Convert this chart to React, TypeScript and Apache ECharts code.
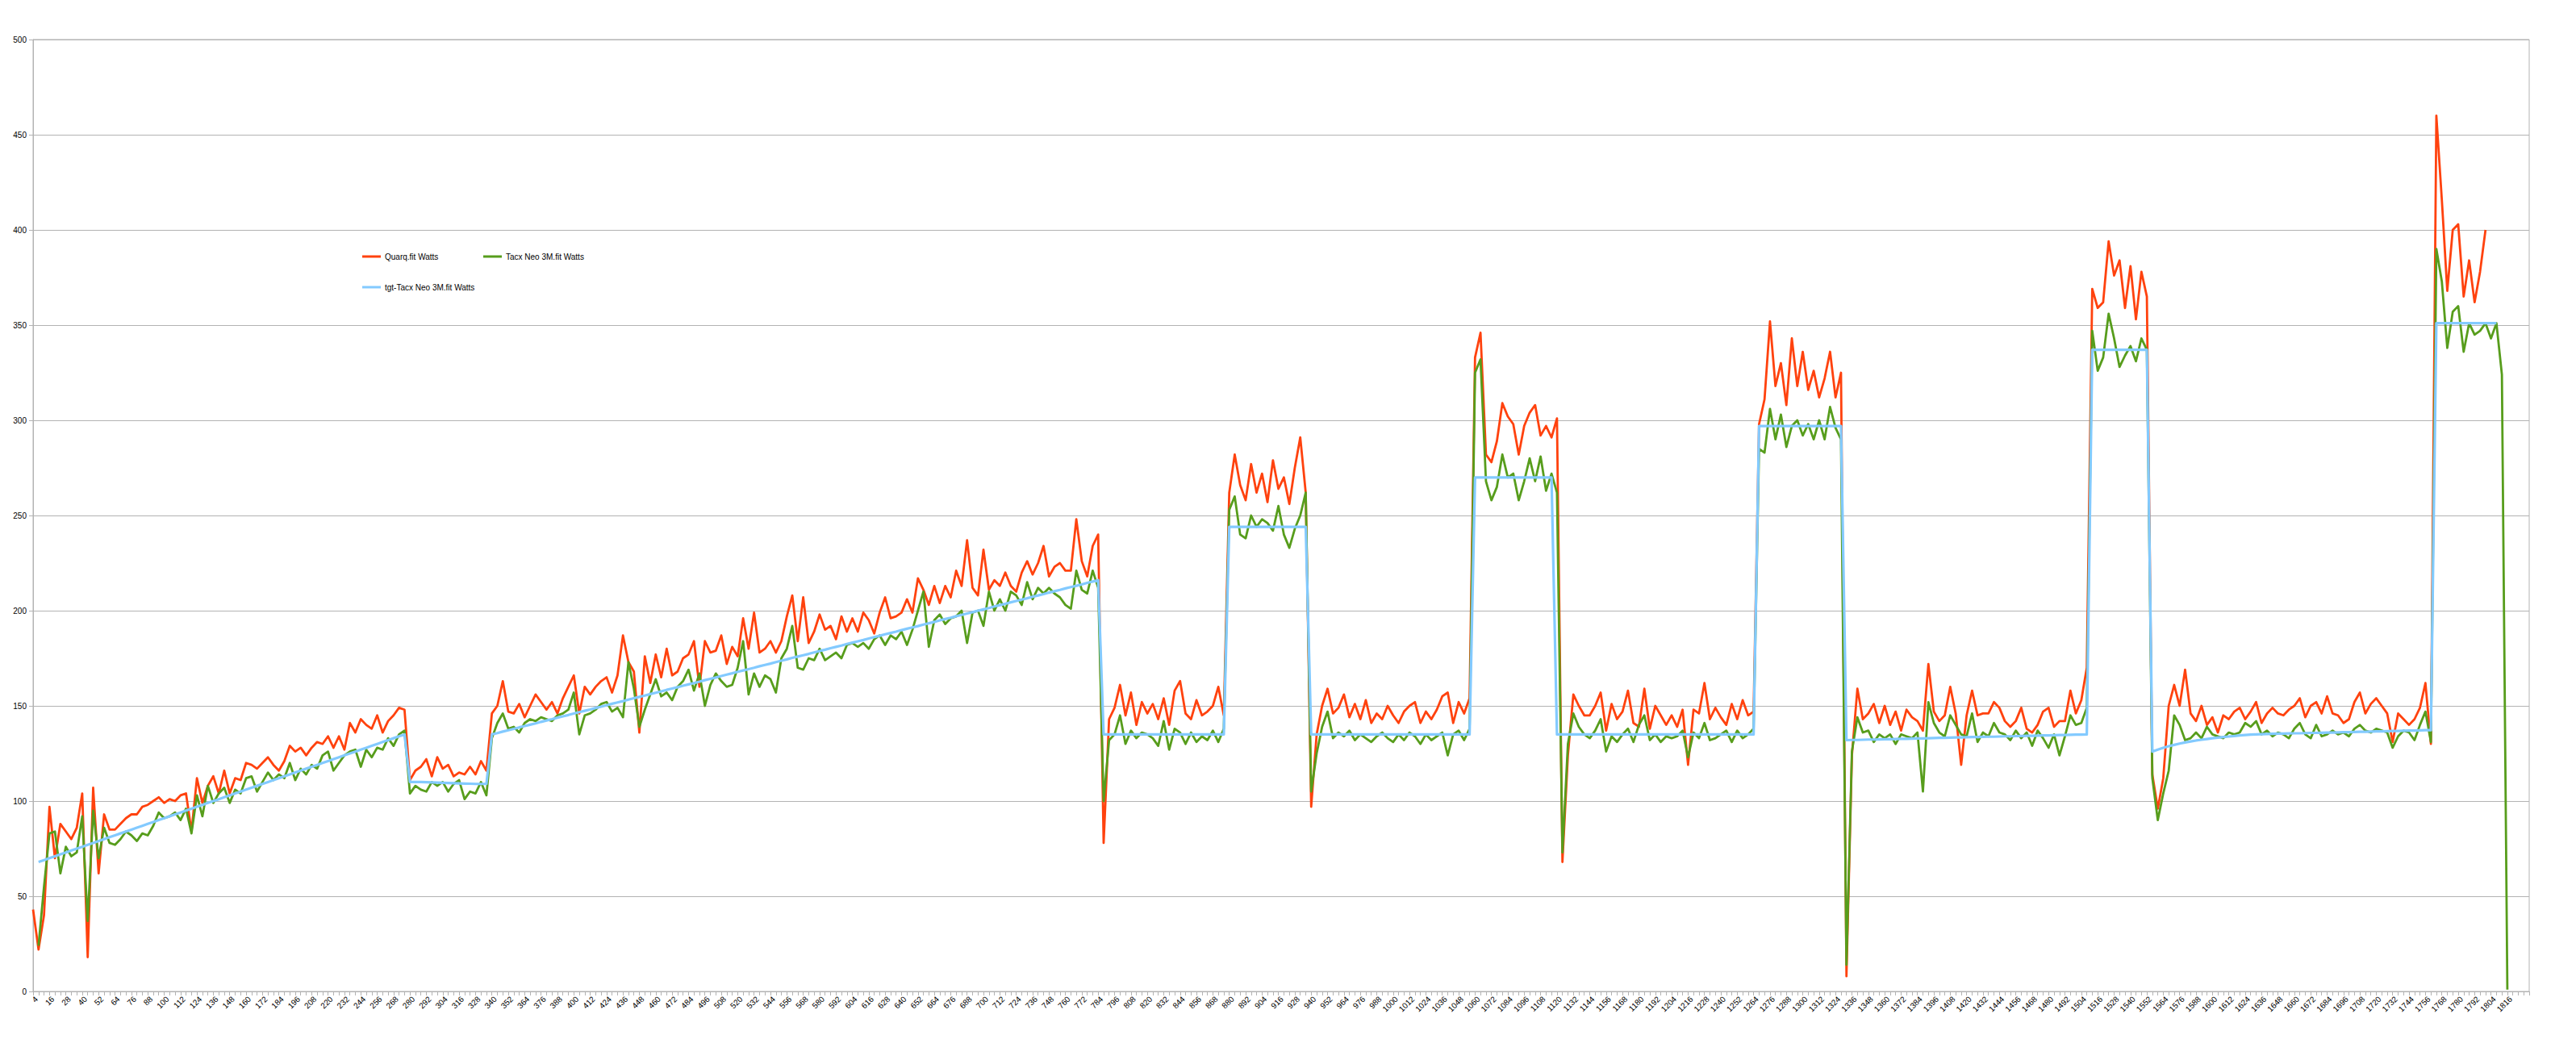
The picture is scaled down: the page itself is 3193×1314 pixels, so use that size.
import React, { useEffect, useRef } from "react";
import * as echarts from "echarts";

// Category axis: elapsed seconds, one category every 4 s (4 ... 1832)
const categories: string[] = Array.from({ length: 458 }, (_, i) => String(4 + 4 * i));
// last labelled category ("1816")
const lastLabelIndex = 453;

// ---------------- Quarq.fit Watts (segments: start category index + values) ----------------
const quarqRamp1Start = 0;
const quarqRamp1 = [
  43, 22, 40, 97, 70, 88, 84, 80, 86, 104,
  18, 107, 62, 93, 85, 85, 88, 91, 93, 93,
  97, 98, 100, 102, 99, 101, 100, 103, 104, 84,
  112, 99, 108, 113, 104, 116, 104, 112, 111, 120,
  119, 117, 120, 123, 119, 116, 121, 129, 126, 128,
  124, 128, 131, 130, 134, 128, 134, 127, 141, 136,
  143, 140, 138, 145, 136, 142, 145, 149, 148,
];
const quarqRec1Start = 69;
const quarqRec1 = [111, 116, 118, 122, 113, 123, 117, 119, 113, 115, 114, 118, 114, 121, 116];
const quarqRamp2Start = 84;
const quarqRamp2 = [
  146, 150, 163, 147, 146, 151, 144, 150, 156, 152,
  148, 152, 146, 154, 160, 166, 146, 160, 156, 160,
  163, 165, 157, 166, 187, 173, 168, 136, 176, 162,
  177, 165, 180, 166, 168, 175, 177, 184, 160, 184,
  178, 179, 187, 172, 181, 176, 196, 180, 199, 178,
  180, 184, 178, 184, 197, 208, 184, 207, 183, 189,
  198, 190, 192, 185, 197, 189, 196, 189, 199, 195,
  188, 199, 207, 196, 197, 199, 206, 199, 217, 211,
  203, 213, 204, 213, 207, 221, 213, 237, 212, 208,
  232, 211, 216, 213, 220, 213, 210, 220, 226, 219,
  225, 234, 218, 223, 225, 221, 221, 248, 226, 218,
  234, 240,
];
const quarqRec2Start = 196;
const quarqRec2 = [78, 143, 149, 161, 145, 157, 140, 152, 146, 151, 143, 154, 140, 158, 163, 146, 143, 153, 145, 147, 150, 160, 145];
const quarqBlock1Start = 219;
const quarqBlock1 = [262, 282, 266, 258, 277, 262, 272, 257, 279, 264, 270, 256, 275, 291, 262];
const quarqRec3Start = 234;
const quarqRec3 = [
  97, 135, 150, 159, 146, 149, 156, 144, 151, 143,
  153, 141, 146, 143, 150, 145, 141, 147, 150, 152,
  141, 147, 143, 148, 155, 157, 141, 152, 146, 154,
];
const quarqBlock2Start = 264;
const quarqBlock2 = [333, 346, 282, 278, 289, 309, 302, 298, 282, 297, 304, 308, 292, 297, 291, 301];
const quarqRec4Start = 280;
const quarqRec4 = [
  68, 124, 156, 150, 145, 145, 150, 157, 137, 151,
  143, 147, 158, 141, 139, 159, 138, 150, 145, 140,
  145, 139, 148, 119, 148, 146, 162, 143, 149, 144,
  140, 151, 143, 153, 145, 147,
];
const quarqBlock3Start = 316;
const quarqBlock3 = [298, 311, 352, 318, 330, 308, 343, 318, 336, 316, 326, 312, 322, 336, 312, 325];
const quarqRec5Start = 332;
const quarqRec5 = [
  8, 124, 159, 143, 146, 151, 141, 150, 140, 147,
  137, 148, 144, 142, 137, 172, 147, 142, 145, 160,
  146, 119, 145, 158, 145, 146, 146, 152, 149, 142,
  139, 142, 149, 138, 136, 140, 147, 149, 139, 142,
  142, 158, 146, 153, 170,
];
const quarqBlock4Start = 377;
const quarqBlock4 = [369, 359, 362, 394, 376, 384, 359, 381, 353, 378, 365];
const quarqRec6Start = 388;
const quarqRec6 = [
  114, 96, 112, 150, 161, 150, 169, 146, 142, 150,
  140, 144, 136, 145, 143, 147, 149, 143, 147, 152,
  141, 146, 149, 146, 145, 148, 150, 154, 144, 150,
  152, 146, 155, 146, 145, 141, 143, 152, 157, 146,
  151, 154, 150, 146, 131, 146, 143, 140, 143, 149,
  162, 130,
];
const quarqBlock5Start = 440;
const quarqBlock5 = [460, 416, 368, 400, 403, 365, 384, 362, 378, 400];

// ---------------- Tacx Neo 3M.fit Watts ----------------
const tacxRamp1Start = 1;
const tacxRamp1 = [
  24, 55, 83, 84, 62, 76, 71, 73, 92, 37,
  95, 70, 86, 78, 77, 80, 84, 82, 79, 83,
  82, 87, 94, 91, 92, 94, 90, 96, 83, 103,
  92, 108, 99, 104, 107, 99, 106, 104, 112, 113,
  105, 110, 115, 111, 114, 112, 120, 111, 117, 114,
  119, 117, 124, 126, 116, 120, 124, 126, 127, 118,
  127, 123, 128, 127, 133, 129, 135, 137,
];
const tacxRec1Start = 69;
const tacxRec1 = [104, 108, 106, 105, 110, 108, 110, 105, 109, 111, 101, 105, 104, 110, 103];
const tacxRamp2Start = 84;
const tacxRamp2 = [
  133, 141, 146, 138, 139, 136, 141, 143, 142, 144,
  143, 142, 145, 146, 148, 157, 135, 145, 146, 148,
  151, 152, 147, 149, 144, 173, 159, 139, 148, 156,
  164, 155, 157, 153, 160, 163, 169, 158, 167, 150,
  161, 167, 163, 160, 161, 170, 184, 156, 167, 160,
  166, 164, 157, 175, 180, 192, 170, 169, 175, 174,
  180, 174, 176, 178, 175, 182, 183, 181, 183, 180,
  185, 187, 182, 187, 185, 189, 182, 190, 200, 210,
  181, 195, 198, 193, 196, 197, 200, 183, 199, 200,
  192, 210, 200, 206, 200, 210, 208, 203, 215, 206,
  212, 209, 212, 209, 207, 203, 201, 221, 211, 209,
  221, 212,
];
const tacxRec2Start = 196;
const tacxRec2 = [100, 132, 135, 145, 130, 137, 133, 136, 135, 133, 129, 142, 127, 138, 136, 130, 136, 131, 134, 132, 137, 131, 138];
const tacxBlock1Start = 219;
const tacxBlock1 = [253, 260, 240, 238, 250, 244, 248, 246, 242, 255, 240, 233, 243, 250, 262];
const tacxRec3Start = 234;
const tacxRec3 = [
  105, 125, 139, 147, 133, 136, 134, 137, 132, 135,
  133, 131, 134, 136, 133, 131, 135, 132, 136, 134,
  130, 135, 132, 134, 136, 124, 135, 137, 132, 138,
];
const tacxBlock2Start = 264;
const tacxBlock2 = [325, 332, 268, 258, 265, 282, 270, 272, 258, 268, 280, 268, 281, 263, 272, 262];
const tacxRec4Start = 280;
const tacxRec4 = [
  73, 130, 146, 139, 135, 133, 137, 143, 126, 134,
  131, 135, 138, 131, 140, 145, 132, 135, 131, 134,
  133, 134, 137, 123, 136, 133, 141, 132, 133, 135,
  137, 131, 137, 133, 135, 138,
];
const tacxBlock3Start = 316;
const tacxBlock3 = [285, 283, 306, 290, 303, 286, 297, 300, 292, 298, 290, 300, 290, 307, 296, 290];
const tacxRec5Start = 332;
const tacxRec5 = [
  14, 126, 144, 136, 137, 131, 135, 133, 135, 130,
  135, 134, 133, 136, 105, 152, 141, 136, 134, 145,
  140, 135, 134, 146, 131, 136, 134, 141, 136, 135,
  132, 137, 133, 136, 129, 137, 133, 128, 135, 124,
  134, 145, 140, 141, 149,
];
const tacxBlock4Start = 377;
const tacxBlock4 = [347, 326, 333, 356, 343, 328, 334, 339, 331, 343, 337];
const tacxRec6Start = 388;
const tacxRec6 = [
  112, 90, 104, 116, 145, 140, 132, 133, 136, 133,
  139, 135, 134, 133, 136, 135, 136, 141, 139, 142,
  135, 137, 134, 136, 135, 133, 138, 141, 135, 133,
  140, 134, 135, 137, 135, 136, 134, 138, 140, 137,
  136, 138, 137, 136, 128, 134, 137, 136, 132, 140,
  147, 131,
];
const tacxBlock5Start = 440;
const tacxBlock5 = [390, 373, 338, 357, 360, 336, 351, 345, 347, 351, 343, 351, 324, 1];

// ---------------- tgt-Tacx Neo 3M.fit Watts (target) ----------------
const tgtRamp1Start = 1;
const tgtRamp1 = [
  68, 69, 70, 71, 72, 73, 74, 75, 76, 77,
  78, 79, 80, 81, 82, 83, 84, 85, 86, 87,
  88, 89, 90, 91, 92, 93, 94, 95, 96, 97,
  98, 99, 100, 101, 102, 103, 104, 105, 106, 107,
  108, 109, 110, 111, 112, 113, 114, 115, 116, 117,
  118, 119, 120, 121, 122, 123, 124, 125, 126, 127,
  128, 129, 130, 131, 132, 133, 134, 135,
];
const tgtRec1Start = 69;
const tgtRec1 = [110, 110, 110, 109.9, 109.8, 109.7, 109.6, 109.5, 109.4, 109.3, 109.2, 109.1, 109, 109, 109];
const tgtRamp2Start = 84;
const tgtRamp2 = [
  135.0, 135.7, 136.5, 137.2, 137.9, 138.7, 139.4, 140.1, 140.8, 141.6,
  142.3, 143.0, 143.8, 144.5, 145.2, 146.0, 146.7, 147.4, 148.1, 148.9,
  149.6, 150.3, 151.1, 151.8, 152.5, 153.3, 154.0, 154.7, 155.4, 156.2,
  156.9, 157.6, 158.4, 159.1, 159.8, 160.6, 161.3, 162.0, 162.7, 163.5,
  164.2, 164.9, 165.7, 166.4, 167.1, 167.9, 168.6, 169.3, 170.0, 170.8,
  171.5, 172.2, 173.0, 173.7, 174.4, 175.2, 175.9, 176.6, 177.3, 178.1,
  178.8, 179.5, 180.3, 181.0, 181.7, 182.5, 183.2, 183.9, 184.6, 185.4,
  186.1, 186.8, 187.6, 188.3, 189.0, 189.8, 190.5, 191.2, 191.9, 192.7,
  193.4, 194.1, 194.9, 195.6, 196.3, 197.1, 197.8, 198.5, 199.2, 200.0,
  200.7, 201.4, 202.2, 202.9, 203.6, 204.4, 205.1, 205.8, 206.5, 207.3,
  208.0, 208.7, 209.5, 210.2, 210.9, 211.7, 212.4, 213.1, 213.8, 214.6,
  215.3, 216.0,
];
const tgtRec2Start = 196;
const tgtRec2 = [135, 135, 135, 135, 135, 135, 135, 135, 135, 135, 135, 135, 135, 135, 135, 135, 135, 135, 135, 135, 135, 135, 135];
const tgtBlock1Start = 219;
const tgtBlock1 = [244, 244, 244, 244, 244, 244, 244, 244, 244, 244, 244, 244, 244, 244, 244];
const tgtRec3Start = 234;
const tgtRec3 = [
  135, 135, 135, 135, 135, 135, 135, 135, 135, 135,
  135, 135, 135, 135, 135, 135, 135, 135, 135, 135,
  135, 135, 135, 135, 135, 135, 135, 135, 135, 135,
];
const tgtBlock2Start = 264;
const tgtBlock2 = [270, 270, 270, 270, 270, 270, 270, 270, 270, 270, 270, 270, 270, 270, 270];
const tgtRec4Start = 279;
const tgtRec4 = [
  135, 135, 135, 135, 135, 135, 135, 135, 135, 135,
  135, 135, 135, 135, 135, 135, 135, 135, 135, 135,
  135, 135, 135, 135, 135, 135, 135, 135, 135, 135,
  135, 135, 135, 135, 135, 135, 135,
];
const tgtBlock3Start = 316;
const tgtBlock3 = [297, 297, 297, 297, 297, 297, 297, 297, 297, 297, 297, 297, 297, 297, 297, 297];
const tgtRec5Start = 332;
const tgtRec5 = [
  132.0, 132.1, 132.1, 132.2, 132.3, 132.3, 132.4, 132.5, 132.5, 132.6,
  132.7, 132.7, 132.8, 132.9, 132.9, 133.0, 133.1, 133.2, 133.2, 133.3,
  133.4, 133.4, 133.5, 133.6, 133.6, 133.7, 133.8, 133.8, 133.9, 134.0,
  134.0, 134.1, 134.2, 134.3, 134.3, 134.4, 134.5, 134.5, 134.6, 134.7,
  134.7, 134.8, 134.9, 134.9, 135.0,
];
const tgtBlock4Start = 377;
const tgtBlock4 = [337, 337, 337, 337, 337, 337, 337, 337, 337, 337, 337];
const tgtRec6Start = 388;
const tgtRec6 = [
  126, 127, 128, 128.8, 129.5, 130.2, 130.8, 131.3, 131.8, 132.2,
  132.6, 133, 133.3, 133.6, 133.9, 134.2, 134.5, 134.7, 134.9, 135.0,
  135.1, 135.2, 135.3, 135.4, 135.4, 135.5, 135.6, 135.6, 135.7, 135.8,
  135.8, 135.9, 136.0, 136.0, 136.1, 136.2, 136.2, 136.3, 136.4, 136.4,
  136.5, 136.6, 136.6, 136.7, 136.8, 136.8, 136.9, 137.0, 137.0, 137.1,
  137.2, 137.2,
];
const tgtBlock5Start = 440;
const tgtBlock5 = [351, 351, 351, 351, 351, 351, 351, 351, 351, 351, 351, 351];

// y-axis ticks
const yMin = 0;
const yMax = 500;
const yStep = 50;

const seriesNames = ["Quarq.fit Watts", "Tacx Neo 3M.fit Watts", "tgt-Tacx Neo 3M.fit Watts"];
const seriesColors = ["#ff420e", "#579d1c", "#83caff"];

type Seg = [number, number[]];
function toPoints(segs: Seg[]): [number, number][] {
  const out: [number, number][] = [];
  segs.forEach(([start, vals]) => {
    vals.forEach((v, k) => out.push([start + k, v]));
  });
  return out;
}

const quarqPoints = toPoints([
  [quarqRamp1Start, quarqRamp1], [quarqRec1Start, quarqRec1], [quarqRamp2Start, quarqRamp2],
  [quarqRec2Start, quarqRec2], [quarqBlock1Start, quarqBlock1], [quarqRec3Start, quarqRec3],
  [quarqBlock2Start, quarqBlock2], [quarqRec4Start, quarqRec4], [quarqBlock3Start, quarqBlock3],
  [quarqRec5Start, quarqRec5], [quarqBlock4Start, quarqBlock4], [quarqRec6Start, quarqRec6],
  [quarqBlock5Start, quarqBlock5],
]);
const tacxPoints = toPoints([
  [tacxRamp1Start, tacxRamp1], [tacxRec1Start, tacxRec1], [tacxRamp2Start, tacxRamp2],
  [tacxRec2Start, tacxRec2], [tacxBlock1Start, tacxBlock1], [tacxRec3Start, tacxRec3],
  [tacxBlock2Start, tacxBlock2], [tacxRec4Start, tacxRec4], [tacxBlock3Start, tacxBlock3],
  [tacxRec5Start, tacxRec5], [tacxBlock4Start, tacxBlock4], [tacxRec6Start, tacxRec6],
  [tacxBlock5Start, tacxBlock5],
]);
const tgtPoints = toPoints([
  [tgtRamp1Start, tgtRamp1], [tgtRec1Start, tgtRec1], [tgtRamp2Start, tgtRamp2],
  [tgtRec2Start, tgtRec2], [tgtBlock1Start, tgtBlock1], [tgtRec3Start, tgtRec3],
  [tgtBlock2Start, tgtBlock2], [tgtRec4Start, tgtRec4], [tgtBlock3Start, tgtBlock3],
  [tgtRec5Start, tgtRec5], [tgtBlock4Start, tgtBlock4], [tgtRec6Start, tgtRec6],
  [tgtBlock5Start, tgtBlock5],
]);

const FONT = "'Liberation Sans', Arial, sans-serif";
const GRID_COLOR = "#b3b3b3";

function legendItem(name: string, left: number, top: number) {
  return {
    data: [name],
    left,
    top,
    padding: 0,
    icon: "rect",
    itemWidth: 23,
    itemHeight: 3,
    selectedMode: false,
    textStyle: { fontSize: 10, color: "#000", fontFamily: FONT },
  };
}

export default function App() {
  const ref = useRef<HTMLDivElement>(null);
  useEffect(() => {
    if (!ref.current) return;
    const chart = echarts.init(ref.current, undefined, { renderer: "svg" });
    const pointSeries = [quarqPoints, tacxPoints, tgtPoints];
    const widths = [2.8, 2.8, 3.2];
    chart.setOption({
      animation: false,
      backgroundColor: "#ffffff",
      textStyle: { fontFamily: FONT },
      grid: {
        left: 41,
        right: 58,
        top: 49,
        bottom: 85,
        show: true,
        borderColor: GRID_COLOR,
        borderWidth: 1,
        containLabel: false,
        outerBoundsMode: "none",
      },
      legend: [
        legendItem(seriesNames[0], 449, 313),
        legendItem(seriesNames[1], 599, 313),
        legendItem(seriesNames[2], 449, 351),
      ],
      xAxis: {
        type: "category",
        data: categories,
        boundaryGap: false,
        axisLine: { show: true, lineStyle: { color: GRID_COLOR, width: 1 } },
        axisTick: { show: true, interval: 0, length: 5, lineStyle: { color: GRID_COLOR } },
        axisLabel: {
          interval: (index: number) => index % 3 === 0 && index <= lastLabelIndex,
          rotate: 45,
          fontSize: 10,
          color: "#000",
          fontFamily: FONT,
          margin: 12,
          padding: [12, -6, 0, 0],
        },
        splitLine: { show: false },
      },
      yAxis: {
        type: "value",
        min: yMin,
        max: yMax,
        interval: yStep,
        axisLine: { show: true, lineStyle: { color: GRID_COLOR, width: 1 } },
        axisTick: { show: true, length: 5, lineStyle: { color: GRID_COLOR } },
        axisLabel: { fontSize: 10, color: "#000", fontFamily: FONT, margin: 8 },
        splitLine: { show: true, lineStyle: { color: GRID_COLOR, width: 1 } },
      },
      series: pointSeries.map((pts, idx) => ({
        name: seriesNames[idx],
        type: "line",
        data: pts,
        showSymbol: false,
        symbol: "none",
        smooth: false,
        silent: true,
        z: 2 + idx,
        color: seriesColors[idx],
        itemStyle: { color: seriesColors[idx] },
        lineStyle: { color: seriesColors[idx], width: widths[idx], join: "round" },
        emphasis: { disabled: true },
      })),
    });
    return () => chart.dispose();
  }, []);
  return (
    <div
      ref={ref}
      style={{ position: "fixed", left: 0, top: 0, width: "3193px", height: "1314px", background: "#fff" }}
    />
  );
}
